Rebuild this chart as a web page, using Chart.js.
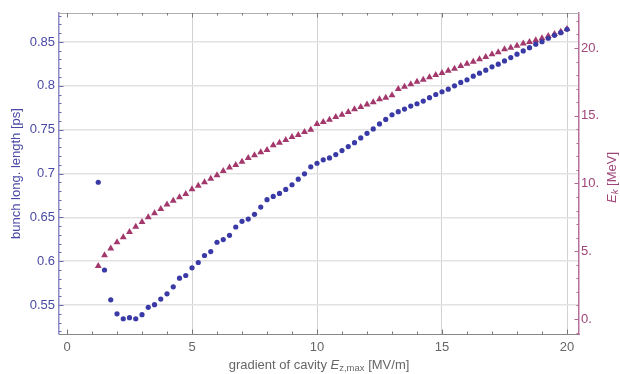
<!DOCTYPE html>
<html>
<head>
<meta charset="utf-8">
<script src="https://cdn.jsdelivr.net/npm/chart.js@4"></script>
<style>
  html, body { margin: 0; padding: 0; background: #fff; }
  #wrap { width: 620px; height: 374px; position: relative; }
</style>
</head>
<body>
<div id="wrap"><canvas id="myChart" width="620" height="374"></canvas></div>
<script>
// cavity gradient [MV/m]
const gradient = [1.25, 1.5, 1.75, 2, 2.25, 2.5, 2.75, 3, 3.25, 3.5,
  3.75, 4, 4.25, 4.5, 4.75, 5, 5.25, 5.5, 5.75, 6,
  6.25, 6.5, 6.75, 7, 7.25, 7.5, 7.75, 8, 8.25, 8.5,
  8.75, 9, 9.25, 9.5, 9.75, 10, 10.25, 10.5, 10.75, 11,
  11.25, 11.5, 11.75, 12, 12.25, 12.5, 12.75, 13, 13.25, 13.5,
  13.75, 14, 14.25, 14.5, 14.75, 15, 15.25, 15.5, 15.75, 16,
  16.25, 16.5, 16.75, 17, 17.25, 17.5, 17.75, 18, 18.25, 18.5,
  18.75, 19, 19.25, 19.5, 19.75, 20];

// bunch longitudinal length [ps] (left axis)
const bunchLength = [0.690, 0.590, 0.556, 0.540, 0.5344, 0.5356, 0.5344, 0.539, 0.5474, 0.5504,
  0.5568, 0.5628, 0.5708, 0.5807, 0.5837, 0.5924, 0.5985, 0.6065, 0.611, 0.6216,
  0.6247, 0.6295, 0.639, 0.6455, 0.648, 0.6534, 0.6617, 0.6701, 0.6739, 0.6773,
  0.6818, 0.6872, 0.6935, 0.6996, 0.7076, 0.7117, 0.7156, 0.7178, 0.7216, 0.7261,
  0.7307, 0.7352, 0.7406, 0.7458, 0.7508, 0.7565, 0.7617, 0.767, 0.7705, 0.7735,
  0.7769, 0.7795, 0.7826, 0.7864, 0.7901, 0.7932, 0.7962, 0.800, 0.8038, 0.8068,
  0.811, 0.8144, 0.8178, 0.8216, 0.8246, 0.8284, 0.8322, 0.836, 0.8398, 0.8435,
  0.8474, 0.8503, 0.8542, 0.8576, 0.8606, 0.8644];

// kinetic energy [MeV] (right axis)
const kineticEnergy = [3.9, 4.7, 5.2, 5.66, 6.03, 6.42, 6.81, 7.16, 7.5, 7.8,
  8.12, 8.44, 8.73, 8.98, 9.22, 9.57, 9.84, 10.09, 10.35, 10.6,
  10.92, 11.17, 11.37, 11.6, 11.88, 12.08, 12.3, 12.47, 12.82, 13.01,
  13.21, 13.43, 13.58, 13.8, 13.97, 14.39, 14.54, 14.71, 14.91, 15.08,
  15.28, 15.47, 15.65, 15.82, 15.99, 16.21, 16.33, 16.51, 16.97, 17.14,
  17.32, 17.51, 17.66, 17.84, 18.01, 18.15, 18.32, 18.47, 18.67, 18.84,
  18.99, 19.16, 19.33, 19.53, 19.68, 19.9, 20.02, 20.17, 20.32, 20.44,
  20.57, 20.72, 20.89, 21.03, 21.2, 21.4];

// tick labels
const xTicks = [0, 5, 10, 15, 20];
const xTickLabels = ['0', '5', '10', '15', '20'];
const leftTicks = [0.55, 0.6, 0.65, 0.7, 0.75, 0.8, 0.85];
const leftTickLabels = ['0.55', '0.6', '0.65', '0.7', '0.75', '0.8', '0.85'];
const rightTicks = [0, 5, 10, 15, 20];
const rightTickLabels = ['0.', '5.', '10.', '15.', '20.'];

// axis titles
const leftTitle = 'bunch long. length [ps]';
const bottomTitle = ['gradient of cavity ', 'E', 'z,max', ' [MV/m]'];
const rightTitle = ['E', 'k', ' [MeV]'];

const FONT = '"Liberation Sans", Arial, sans-serif';
const blue = '#3a3aa6';
const maroon = '#a3386c';

// Inward frame ticks and axis titles, positioned through the chart scales
const frameDecor = {
  id: 'frameDecor',
  afterDraw(chart) {
    const { ctx, chartArea: a, scales } = chart;
    const x = scales.x, yl = scales.y, yr = scales.y2;
    ctx.save();

    // top frame line
    ctx.strokeStyle = '#b0b0b0';
    ctx.lineWidth = 1;
    ctx.beginPath();
    ctx.moveTo(a.left, a.top + 0.5);
    ctx.lineTo(a.right, a.top + 0.5);
    ctx.stroke();

    // x ticks, bottom and top
    ctx.strokeStyle = '#777';
    for (let v = 0; v <= 20; v++) {
      const len = v % 5 === 0 ? 4.5 : 2.5;
      const px = Math.round(x.getPixelForValue(v)) + 0.5;
      ctx.beginPath();
      ctx.moveTo(px, a.bottom);
      ctx.lineTo(px, a.bottom - len);
      ctx.moveTo(px, a.top);
      ctx.lineTo(px, a.top + len);
      ctx.stroke();
    }

    // left ticks
    ctx.strokeStyle = '#6a6ab4';
    for (let i = 52; i <= 88; i++) {
      const v = i / 100;
      const len = i % 5 === 0 ? 4.5 : 2.5;
      const py = Math.round(yl.getPixelForValue(v)) + 0.5;
      ctx.beginPath();
      ctx.moveTo(a.left, py);
      ctx.lineTo(a.left + len, py);
      ctx.stroke();
    }

    // right ticks
    ctx.strokeStyle = '#b06a94';
    for (let v = -1; v <= 22; v++) {
      const len = v % 5 === 0 ? 4.5 : 2.5;
      const py = Math.round(yr.getPixelForValue(v)) + 0.5;
      ctx.beginPath();
      ctx.moveTo(a.right, py);
      ctx.lineTo(a.right - len, py);
      ctx.stroke();
    }

    // left title
    ctx.fillStyle = '#4a4aa6';
    ctx.font = '13px ' + FONT;
    ctx.textAlign = 'center';
    ctx.textBaseline = 'middle';
    ctx.translate(16, (a.top + a.bottom) / 2);
    ctx.rotate(-Math.PI / 2);
    ctx.fillText(leftTitle, 0, 0);
    ctx.setTransform(1, 0, 0, 1, 0, 0);

    // bottom title with subscript
    const parts = [
      { t: bottomTitle[0], f: '13px ' + FONT, dy: 0 },
      { t: bottomTitle[1], f: 'italic 13px ' + FONT, dy: 0 },
      { t: bottomTitle[2], f: '9.5px ' + FONT, dy: 3.5 },
      { t: bottomTitle[3], f: '13px ' + FONT, dy: 0 }
    ];
    drawParts(ctx, parts, (a.left + a.right) / 2, 365, '#666');

    // right title with subscript (rotated)
    ctx.translate(612, (a.top + a.bottom) / 2 + 4);
    ctx.rotate(-Math.PI / 2);
    const rparts = [
      { t: rightTitle[0], f: 'italic 13px ' + FONT, dy: 0 },
      { t: rightTitle[1], f: 'italic 9.5px ' + FONT, dy: 3.5 },
      { t: rightTitle[2], f: '13px ' + FONT, dy: 0 }
    ];
    drawParts(ctx, rparts, 0, 0, '#a0467a');
    ctx.restore();
  }
};

function drawParts(ctx, parts, cx, cy, color) {
  let total = 0;
  parts.forEach(p => { ctx.font = p.f; p.w = ctx.measureText(p.t).width; total += p.w; });
  let cur = cx - total / 2;
  ctx.fillStyle = color;
  ctx.textAlign = 'left';
  ctx.textBaseline = 'middle';
  parts.forEach(p => {
    ctx.font = p.f;
    ctx.fillText(p.t, cur, cy + p.dy);
    cur += p.w;
  });
}

const ctx = document.getElementById('myChart').getContext('2d');

new Chart(ctx, {
  type: 'scatter',
  data: {
    datasets: [
      {
        label: 'bunch length',
        data: gradient.map((g, i) => ({ x: g, y: bunchLength[i] })),
        yAxisID: 'y',
        pointStyle: 'circle',
        pointRadius: 2.6,
        backgroundColor: blue,
        borderColor: blue,
        borderWidth: 0,
        order: 1
      },
      {
        label: 'kinetic energy',
        data: gradient.map((g, i) => ({ x: g, y: kineticEnergy[i] })),
        yAxisID: 'y2',
        pointStyle: 'triangle',
        pointRadius: 4,
        backgroundColor: maroon,
        borderColor: maroon,
        borderWidth: 0,
        order: 2
      }
    ]
  },
  options: {
    responsive: false,
    animation: false,
    layout: { padding: { top: 13, left: 0, right: 0, bottom: 0 } },
    plugins: { legend: { display: false }, tooltip: { enabled: false } },
    scales: {
      x: {
        type: 'linear',
        min: -0.32,
        max: 20.48,
        afterBuildTicks: s => { s.ticks = xTicks.map(v => ({ value: v })); },
        afterFit: s => { s.height = 40; },
        ticks: {
          callback: (v) => xTickLabels[xTicks.indexOf(v)],
          color: '#666',
          font: { family: FONT, size: 13 },
          padding: 6,
          maxRotation: 0
        },
        grid: {
          drawTicks: false,
          color: c => (c.tick && c.tick.value === 0) ? 'rgba(0,0,0,0)' : '#d2d2d2',
          lineWidth: 1
        },
        border: { color: '#888', width: 1 }
      },
      y: {
        type: 'linear',
        position: 'left',
        min: 0.517,
        max: 0.883,
        afterBuildTicks: s => { s.ticks = leftTicks.map(v => ({ value: v })); },
        afterFit: s => { s.width = 59; },
        ticks: {
          callback: (v) => leftTickLabels[leftTicks.findIndex(t => Math.abs(t - v) < 1e-6)],
          color: '#4a4aa6',
          font: { family: FONT, size: 13 },
          padding: 4
        },
        grid: { drawTicks: false, color: '#e2e2e2', lineWidth: 1.5 },
        border: { color: '#8c8cc8', width: 1.5 }
      },
      y2: {
        type: 'linear',
        position: 'right',
        min: -1.11,
        max: 22.58,
        afterBuildTicks: s => { s.ticks = rightTicks.map(v => ({ value: v })); },
        afterFit: s => { s.width = 41; },
        ticks: {
          callback: (v) => rightTickLabels[rightTicks.indexOf(v)],
          color: '#a0467a',
          font: { family: FONT, size: 13 },
          padding: 2
        },
        grid: { display: false, drawTicks: false },
        border: { color: '#b8709c', width: 1.5 }
      }
    }
  },
  plugins: [frameDecor]
});
</script>
</body>
</html>
